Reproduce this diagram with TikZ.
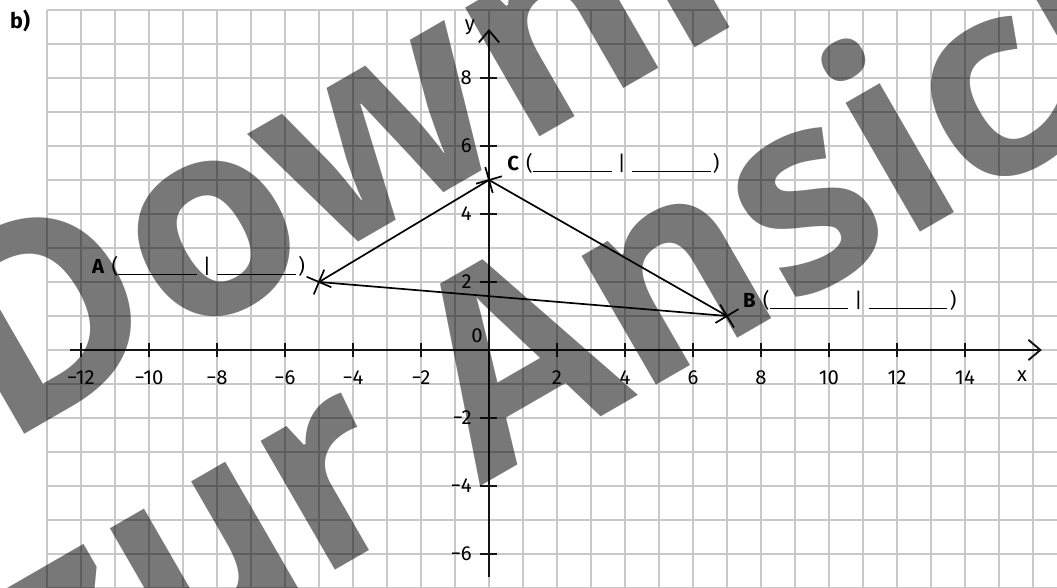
\documentclass[tikz,border=0pt]{standalone}
\usepackage{fontspec}
\setmainfont{Fira Sans}
\newfontfamily\wmfont{Open Sans}
\usepackage{tikz}
\usetikzlibrary{arrows.meta,shapes.misc}

\newcommand{\ticktext}[1]{\ifnum#1<0 \char"2212\relax\number-#1\else#1\fi}
\newcommand{\blankline}{\rule[-0.1em]{2.32cm}{0.7pt}}
\newcommand{\pointlabel}[1]{\textbf{#1}\hspace{6pt}(\blankline\hspace{5pt}|\hspace{5pt}\blankline\hspace{2pt})}

\begin{document}
\begin{tikzpicture}[line join=round,font=\fontsize{17}{20}\selectfont,
    gridline/.style={draw=black!21,line width=1.1pt},
    axisline/.style={line width=1.6pt,black!92},
    ptcross/.style={cross out,draw,line width=1.4pt,minimum size=0.51cm,inner sep=0pt},
    wmark/.style={rotate=30,text=black,text opacity=0.53,inner sep=0pt,
      font=\wmfont\bfseries\fontsize{228}{228}\selectfont}]
  \useasboundingbox (-14.382,-6.971) rectangle (16.706,10.294);
  \coordinate (XS) at (-12.32,0);
  \coordinate (XE) at (16.26,0);
  \coordinate (YS) at (0,-6.68);
  \coordinate (YE) at (0,9.44);
  \coordinate (A) at (-5,2);
  \coordinate (B) at (7,1);
  \coordinate (C) at (0,5);
  % grid and axes
  \draw[gridline] (-13,-7) grid (16.9,10);
  \draw[axisline,-{Straight Barb[length=10pt,width=17pt]}] (XS) -- (XE);
  \draw[axisline,-{Straight Barb[length=10pt,width=17pt]}] (YS) -- (YE);
  \foreach \x in {-12,-10,-8,-6,-4,-2,2,4,6,8,10,12,14} {
    \draw[axisline] (\x,0.22) -- (\x,-0.22);
    \node (tx\x) at (\x,-0.82) {\ticktext{\x}};
  }
  \foreach \y in {-6,-4,-2,2,4,6,8} {
    \draw[axisline] (-0.25,\y) -- (0.25,\y);
    \node[anchor=east,inner sep=0pt] (ty\y) at (-0.5,\y) {\ticktext{\y}};
  }
  \node (orig) at (-0.35,0.42) {0};
  \node (xlab) at (15.68,-0.76) {x};
  \node (ylab) at (-0.56,9.5) {y};
  \node[font=\fontsize{18}{20}\selectfont\bfseries] (part) at (-13.79,9.68) {b)};
  % triangle
  \draw[line width=1.4pt] (A) -- (C) -- (B) -- cycle;
  \node[ptcross,rotate=22] (crA) at (A) {};
  \node[ptcross,rotate=-14] (crB) at (B) {};
  \node[ptcross,rotate=-29] (crC) at (C) {};
  \node[anchor=base west,inner sep=0pt] (labA) at (-11.68,2.26) {\pointlabel{A}};
  \node[anchor=base west,inner sep=0pt] (labB) at (7.47,1.26) {\pointlabel{B}};
  \node[anchor=base west,inner sep=0pt] (labC) at (0.53,5.29) {\pointlabel{C}};
  % watermark
  \node[wmark,anchor=base west] (wmtop) at (-14.28,-2.85) {Download};
  \node[wmark,xscale=0.97,anchor=base west] (wmbot) at (-12.76,-11.24) {zur Ansicht};
\end{tikzpicture}
\end{document}
